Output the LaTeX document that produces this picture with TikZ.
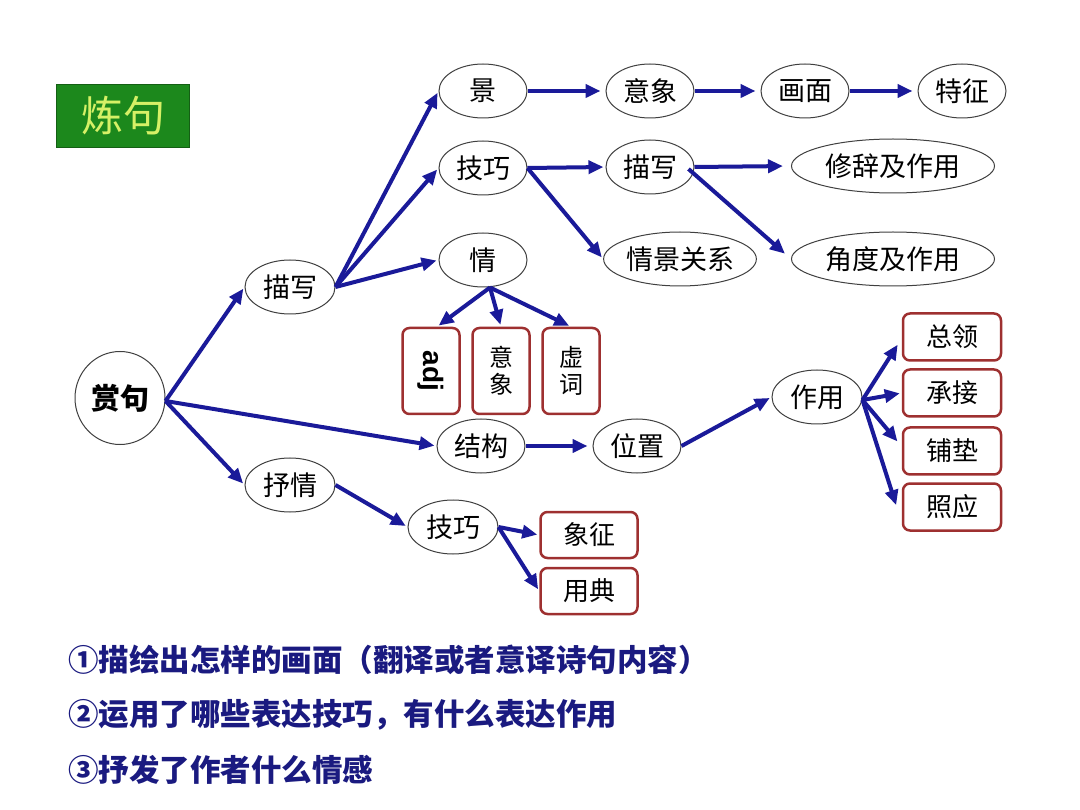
\documentclass[tikz,border=0pt]{standalone}
\usepackage{fontspec}
\setmainfont{Noto Sans CJK SC}
\newfontfamily\latinbold{Liberation Sans}
\usetikzlibrary{shapes.geometric,arrows.meta,calc}
\definecolor{arr}{HTML}{1A1A99}
\definecolor{boxred}{HTML}{9E3030}
\definecolor{titlegreen}{HTML}{1C881C}
\definecolor{titletext}{HTML}{D6F066}
\definecolor{notes}{HTML}{1A1A80}
\begin{document}
\begin{tikzpicture}[x=1pt,y=-1pt,
  el/.style={ellipse, draw=black!75, line width=1pt, minimum width=88pt, minimum height=54pt, inner sep=0pt, fill=white, font=\fontsize{27}{30}\selectfont},
  bx/.style={rectangle, rounded corners=7pt, draw=boxred, line width=2.5pt, fill=white, inner sep=0pt, font=\fontsize{26}{28}\selectfont},
  vbx/.style={bx, minimum width=57pt, minimum height=86pt, align=center, font=\fontsize{24}{27}\selectfont},
  hbx/.style={bx, minimum width=97pt, minimum height=46pt},
  ar/.style={draw=arr, line width=4pt, -{Triangle[length=15pt,width=13pt]}, shorten >=2pt},
  note/.style={anchor=west, text=notes, font=\fontsize{30.5}{34}\selectfont\bfseries, inner sep=0pt}
]
\fill[white] (0,0) rectangle (1080,810);
\useasboundingbox (0,0) rectangle (1080,810);

% title
\node[fill=titlegreen, draw=titlegreen!70!black, line width=0.8pt, minimum width=133pt, minimum height=63pt, inner sep=0pt, text=titletext, font=\fontsize{42}{44}\selectfont] (title) at (123,116) {炼句};

% ellipses
\node[el, minimum width=90pt, minimum height=93pt, font=\fontsize{29}{30}\selectfont\bfseries] (sj) at (120,398) {赏句};
\node[el, minimum width=90pt] (mx) at (290,287) {描写};
\node[el, minimum width=90pt] (sq) at (290,485) {抒情};
\node[el] (jing) at (483,91) {景};
\node[el] (jq) at (483,168) {技巧};
\node[el] (qing) at (483,260) {情};
\node[el] (yx) at (650,91) {意象};
\node[el] (hm) at (805,91) {画面};
\node[el] (tz) at (962,91) {特征};
\node[el] (mx2) at (650,167) {描写};
\node[el, minimum width=150pt] (qjgx) at (680,259) {情景关系};
\node[el, minimum width=203pt] (xc) at (893,166) {修辞及作用};
\node[el, minimum width=203pt] (jd) at (893,259) {角度及作用};
\node[el] (jg) at (481,446) {结构};
\node[el] (wz) at (637,446) {位置};
\node[el, minimum width=90pt] (zy) at (817,397) {作用};
\node[el, minimum width=90pt] (jq2) at (453,527) {技巧};

% boxes
\node[vbx] (adj) at (431,371) {\rotatebox{-90}{\latinbold\fontsize{28}{30}\selectfont\bfseries adj}};
\node[vbx] (yxb) at (501,371) {意\\象};
\node[vbx] (xcb) at (571,371) {虚\\词};
\node[hbx] (xz) at (589,535) {象征};
\node[hbx] (yd) at (589,591) {用典};
\node[hbx, minimum width=98pt, minimum height=47pt] (zl) at (952,337) {总领};
\node[hbx, minimum width=98pt, minimum height=47pt] (cj) at (952,393) {承接};
\node[hbx, minimum width=98pt, minimum height=47pt] (pd) at (952,451) {铺垫};
\node[hbx, minimum width=98pt, minimum height=47pt] (zyb) at (952,507) {照应};

% connectors
\coordinate (sjo) at ($(sj.east)+(0,3)$);
\draw[ar] (sjo) -- (mx.west);
\draw[ar] (sjo) -- (jg.west);
\draw[ar] (sjo) -- (sq.west);
\draw[ar] (mx.east) -- (jing.west);
\draw[ar] (mx.east) -- (jq.west);
\draw[ar] (mx.east) -- (qing.west);
\draw[ar, shorten >=5pt] (jing.east) -- (yx.west);
\draw[ar, shorten >=5pt] (yx.east) -- (hm.west);
\draw[ar, shorten >=5pt] (hm.east) -- (tz.west);
\draw[ar] (jq.east) -- (mx2.west);
\draw[ar] (jq.east) -- (qjgx.west);
\draw[ar, shorten >=8pt] (mx2.east) -- (xc.west);
\draw[ar, shorten >=8pt] ($(mx2.east)+(-6,2)$) -- (jd.west);
\coordinate (qo) at ($(qing.south)+(7,0)$);
\draw[ar] (qo) -- ($(adj.north)+(6,0)$);
\draw[ar] (qo) -- (yxb.north);
\draw[ar] (qo) -- (xcb.north);
\draw[ar, shorten >=5pt] (jg.east) -- (wz.west);
\draw[ar] (wz.east) -- (zy.west);
\coordinate (zyo) at ($(zy.east)+(0,3)$);
\draw[ar] (zyo) -- ($(zl.west)+(-3,6)$);
\draw[ar] (zyo) -- (cj.west);
\draw[ar] (zyo) -- ($(pd.west)+(-3,-8)$);
\draw[ar] (zyo) -- ($(zyb.west)+(-5,0)$);
\draw[ar] (sq.east) -- (jq2.west);
\draw[ar] (jq2.east) -- (xz.west);
\draw[ar] (jq2.east) -- (yd.west);

% notes
\node[note] (n1) at (68,660) {①描绘出怎样的画面（翻译或者意译诗句内容）};
\node[note] (n2) at (68,715) {②运用了哪些表达技巧，有什么表达作用};
\node[note] (n3) at (68,770) {③抒发了作者什么情感};
\end{tikzpicture}
\end{document}
